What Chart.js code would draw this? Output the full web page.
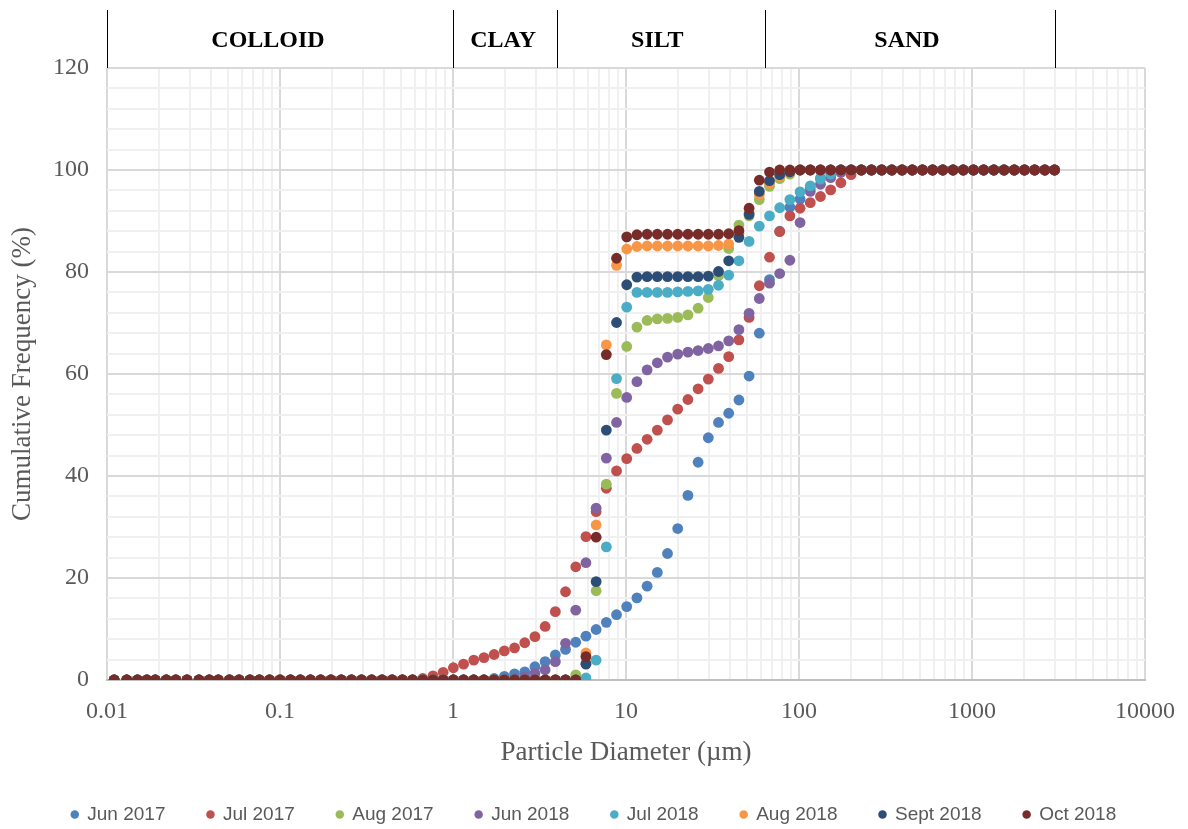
<!DOCTYPE html>
<html>
<head>
<meta charset="utf-8">
<title>Cumulative particle size distribution</title>
<script src="https://cdn.jsdelivr.net/npm/chart.js"></script>
<style>
  html, body { margin: 0; padding: 0; background: #fff; }
  #wrap { width: 1188px; height: 829px; }
</style>
</head>
<body>
<div id="wrap"><canvas id="psdChart" width="1188" height="829"></canvas></div>
<script>
// size classes of the analyser (um)
const sizes = [
  0.011,0.013,0.015,0.017,0.019,0.022,0.025,0.029,0.034,0.039,
  0.044,0.051,0.058,0.067,0.076,0.087,0.1,0.115,0.131,0.15,
  0.172,0.197,0.226,0.259,0.296,0.339,0.389,0.445,0.51,0.584,
  0.669,0.766,0.877,1.005,1.151,1.318,1.51,1.729,1.981,2.269,
  2.599,2.976,3.409,3.905,4.472,5.122,5.867,6.72,7.697,8.816,
  10.097,11.565,13.246,15.172,17.377,19.904,22.797,26.111,29.907,34.255,
  39.234,44.938,51.471,58.953,67.523,77.339,88.583,101.46,116.21,133.103,
  152.453,174.616,200,229.075,262.376,300.518,344.206,394.244,451.556,517.2,
  592.387,678.504,777.141,890.116,1019.515,1167.725,1337.481,1531.914,1754.613,2009.687,
  2301.841,2636.467,3000
];

const jun2017 = [
  0,0,0,0,0,0,0,0,0,0,
  0,0,0,0,0,0,0,0,0,0,
  0,0,0,0,0,0,0,0,0,0,
  0,0,0,0,0,0,0,0.3,0.7,1.2,
  1.6,2.6,3.6,4.9,6.0,7.4,8.6,9.9,11.3,12.8,
  14.4,16.1,18.4,21.1,24.8,29.7,36.2,42.7,47.5,50.5,
  52.3,54.9,59.6,68.0,78.5,88.0,92.7,94.3,96.5,98.4,
  99.5,100,100,100,100,100,100,100,100,100,
  100,100,100,100,100,100,100,100,100,100,
  100,100,100
];
const jul2017 = [
  0,0,0,0,0,0,0,0,0,0,
  0,0,0,0,0,0,0,0,0,0,
  0,0,0,0,0,0,0,0,0,0,
  0.3,0.8,1.5,2.4,3.1,3.9,4.4,5.0,5.7,6.3,
  7.3,8.5,10.5,13.4,17.3,22.2,28.1,33.0,37.6,41.0,
  43.4,45.4,47.2,49.0,51.0,53.1,55.0,57.1,59.0,61.1,
  63.4,66.7,71.1,77.3,82.9,87.9,91.0,92.5,93.6,94.8,
  96.1,97.5,99.1,100,100,100,100,100,100,100,
  100,100,100,100,100,100,100,100,100,100,
  100,100,100
];
const aug2017 = [
  0,0,0,0,0,0,0,0,0,0,
  0,0,0,0,0,0,0,0,0,0,
  0,0,0,0,0,0,0,0,0,0,
  0,0,0,0,0,0,0,0,0,0,
  0,0,0,0,0,1.0,3.3,17.5,38.4,56.2,
  65.4,69.2,70.5,70.8,70.9,71.1,71.6,72.9,75.0,79.3,
  84.6,89.2,91.0,94.2,96.8,98.3,99.2,100,100,100,
  100,100,100,100,100,100,100,100,100,100,
  100,100,100,100,100,100,100,100,100,100,
  100,100,100
];
const jun2018 = [
  0,0,0,0,0,0,0,0,0,0,
  0,0,0,0,0,0,0,0,0,0,
  0,0,0,0,0,0,0,0,0,0,
  0,0,0,0,0,0,0,0,0,0.2,
  0.6,1.3,2.0,3.6,7.2,13.7,23.0,33.7,43.5,50.5,
  55.4,58.5,60.8,62.2,63.3,63.9,64.3,64.6,65.0,65.5,
  66.5,68.7,71.9,74.8,77.8,79.7,82.3,89.7,95.8,97.2,
  98.5,99.5,100,100,100,100,100,100,100,100,
  100,100,100,100,100,100,100,100,100,100,
  100,100,100
];
const jul2018 = [
  0,0,0,0,0,0,0,0,0,0,
  0,0,0,0,0,0,0,0,0,0,
  0,0,0,0,0,0,0,0,0,0,
  0,0,0,0,0,0,0,0,0,0,
  0,0,0,0,0,0,0.4,3.9,26.1,59.1,
  73.1,76.0,76.0,76.0,76.0,76.1,76.2,76.3,76.6,77.4,
  79.4,82.2,86.0,89.0,91.0,92.6,94.2,95.7,96.9,98.2,
  99.2,100,100,100,100,100,100,100,100,100,
  100,100,100,100,100,100,100,100,100,100,
  100,100,100
];
const aug2018 = [
  0,0,0,0,0,0,0,0,0,0,
  0,0,0,0,0,0,0,0,0,0,
  0,0,0,0,0,0,0,0,0,0,
  0,0,0,0,0,0,0,0,0,0,
  0,0,0,0,0,0,5.3,30.4,65.7,81.3,
  84.5,85.0,85.1,85.1,85.1,85.1,85.1,85.1,85.1,85.2,
  85.5,87.6,91.6,95.2,97.4,98.8,99.5,100,100,100,
  100,100,100,100,100,100,100,100,100,100,
  100,100,100,100,100,100,100,100,100,100,
  100,100,100
];
const sep2018 = [
  0,0,0,0,0,0,0,0,0,0,
  0,0,0,0,0,0,0,0,0,0,
  0,0,0,0,0,0,0,0,0,0,
  0,0,0,0,0,0,0,0,0,0,
  0,0,0,0,0,0,3.1,19.3,49.0,70.1,
  77.5,79.0,79.1,79.1,79.1,79.1,79.1,79.1,79.2,80.1,
  82.2,86.8,91.3,95.8,97.9,99.1,99.6,100,100,100,
  100,100,100,100,100,100,100,100,100,100,
  100,100,100,100,100,100,100,100,100,100,
  100,100,100
];
const oct2018 = [
  0,0,0,0,0,0,0,0,0,0,
  0,0,0,0,0,0,0,0,0,0,
  0,0,0,0,0,0,0,0,0,0,
  0,0,0,0,0,0,0,0,0,0,
  0,0,0,0,0,0,4.6,28.0,63.8,82.7,
  86.9,87.3,87.4,87.4,87.4,87.4,87.4,87.4,87.4,87.4,
  87.5,88.1,92.5,98.0,99.6,100,100,100,100,100,
  100,100,100,100,100,100,100,100,100,100,
  100,100,100,100,100,100,100,100,100,100,
  100,100,100
];

const seriesNames = ['Jun 2017', 'Jul 2017', 'Aug 2017', 'Jun 2018', 'Jul 2018', 'Aug 2018', 'Sept 2018', 'Oct 2018'];
const seriesValues = [jun2017, jul2017, aug2017, jun2018, jul2018, aug2018, sep2018, oct2018];
const seriesColors = ['#4F81BD', '#C0504D', '#9BBB59', '#8064A2', '#4BACC6', '#F79646', '#2C4D75', '#772C2A'];

// x axis decades and the labels shown on them
const xTickValues = [0.01, 0.1, 1, 10, 100, 1000, 10000];
const xTickLabels = ['0.01', '0.1', '1', '10', '100', '1000', '10000'];
const yTickLabels = ['0', '20', '40', '60', '80', '100', '120'];

// soil fraction bands above the plot
const bandEdges = [0.01, 1, 4, 64, 3000];
const bandNames = ['COLLOID', 'CLAY', 'SILT', 'SAND'];

const greyText = '#595959';
const isDecade = v => Math.abs(Math.log10(v) - Math.round(Math.log10(v))) < 1e-9;

const datasets = seriesNames.map((name, i) => ({
  label: name,
  data: sizes.map((d, j) => ({ x: d, y: seriesValues[i][j] })),
  backgroundColor: seriesColors[i],
  borderColor: seriesColors[i],
  borderWidth: 0,
  pointRadius: 5.4,
  pointHoverRadius: 5.4,
  pointStyle: 'circle',
  order: seriesNames.length - i   // later series painted on top, like Excel
}));

const bandPlugin = {
  id: 'soilBands',
  afterDraw(chart) {
    const { ctx } = chart;
    const x = chart.scales.x;
    ctx.save();
    ctx.strokeStyle = '#000';
    ctx.lineWidth = 1;
    bandEdges.forEach(v => {
      const px = Math.round(x.getPixelForValue(v)) + 0.5;
      ctx.beginPath();
      ctx.moveTo(px, 10);
      ctx.lineTo(px, chart.chartArea.top);
      ctx.stroke();
    });
    ctx.fillStyle = '#000';
    ctx.font = 'bold 24px "Liberation Serif"';
    ctx.textAlign = 'center';
    ctx.textBaseline = 'middle';
    const shift = [-12, -2, -4, -3];
    bandNames.forEach((name, i) => {
      const mid = Math.sqrt(bandEdges[i] * bandEdges[i + 1]);
      ctx.fillText(name, x.getPixelForValue(mid) + shift[i], 41);
    });
    ctx.restore();
  }
};

new Chart(document.getElementById('psdChart'), {
  type: 'scatter',
  data: { datasets: datasets },
  plugins: [bandPlugin],
  options: {
    responsive: false,
    animation: false,
    devicePixelRatio: 1,
    layout: { padding: { top: 68, right: 0, bottom: -5, left: 0 } },
    plugins: {
      tooltip: { enabled: false },
      legend: {
        position: 'bottom',
        labels: {
          usePointStyle: true,
          boxWidth: 6,
          boxHeight: 6,
          padding: 42,
          color: greyText,
          font: { family: '"Liberation Sans"', size: 19 },
          sort: (a, b) => a.datasetIndex - b.datasetIndex
        }
      }
    },
    scales: {
      x: {
        type: 'logarithmic',
        min: 0.01,
        max: 10000,
        afterBuildTicks: scale => {
          const ticks = [];
          for (let e = -2; e < 4; e++) {
            for (let m = 1; m < 10; m++) {
              ticks.push({ value: +(m * Math.pow(10, e)).toPrecision(6) });
            }
          }
          ticks.push({ value: 10000 });
          scale.ticks = ticks;
        },
        afterFit: scale => {
          scale.height = 83;
          scale.paddingLeft = 0;
          scale.paddingRight = 0;
        },
        ticks: {
          autoSkip: false,
          maxRotation: 0,
          minRotation: 0,
          padding: 17,
          color: greyText,
          font: { family: '"Liberation Serif"', size: 24 },
          callback: value => {
            const k = xTickValues.findIndex(t => Math.abs(t - value) < t * 1e-6);
            return k >= 0 ? xTickLabels[k] : '';
          }
        },
        grid: {
          drawTicks: false,
          color: c => (c.tick && isDecade(c.tick.value)) ? '#d9d9d9' : '#f0f0f0',
          lineWidth: 2
        },
        border: { display: true, color: '#bfbfbf', width: 2 },
        title: {
          display: true,
          text: 'Particle Diameter (µm)',
          color: greyText,
          font: { family: '"Liberation Serif"', size: 27, lineHeight: 1 },
          padding: { top: 0, bottom: -3 }
        }
      },
      y: {
        type: 'linear',
        min: 0,
        max: 120,
        afterBuildTicks: scale => {
          const ticks = [];
          for (let v = 0; v <= 120; v += 4) ticks.push({ value: v });
          scale.ticks = ticks;
        },
        afterFit: scale => { scale.width = 107; },
        ticks: {
          autoSkip: false,
          padding: 18,
          color: greyText,
          font: { family: '"Liberation Serif"', size: 24 },
          callback: value => (value % 20 === 0 ? yTickLabels[value / 20] : '')
        },
        grid: {
          drawTicks: false,
          color: c => (c.tick && c.tick.value % 20 === 0) ? '#d9d9d9' : '#f0f0f0',
          lineWidth: 2
        },
        border: { display: false },
        title: {
          display: true,
          text: 'Cumulative Frequency (%)',
          color: greyText,
          font: { family: '"Liberation Serif"', size: 27, lineHeight: 1 },
          padding: { top: 9, bottom: 0 }
        }
      },
      // empty box on the right so the plot ends where the original does
      gutter: {
        type: 'linear',
        position: 'right',
        display: true,
        afterFit: scale => { scale.width = 43; },
        ticks: { display: false },
        grid: { display: false, drawOnChartArea: false },
        border: { display: false }
      }
    }
  }
});
</script>
</body>
</html>
